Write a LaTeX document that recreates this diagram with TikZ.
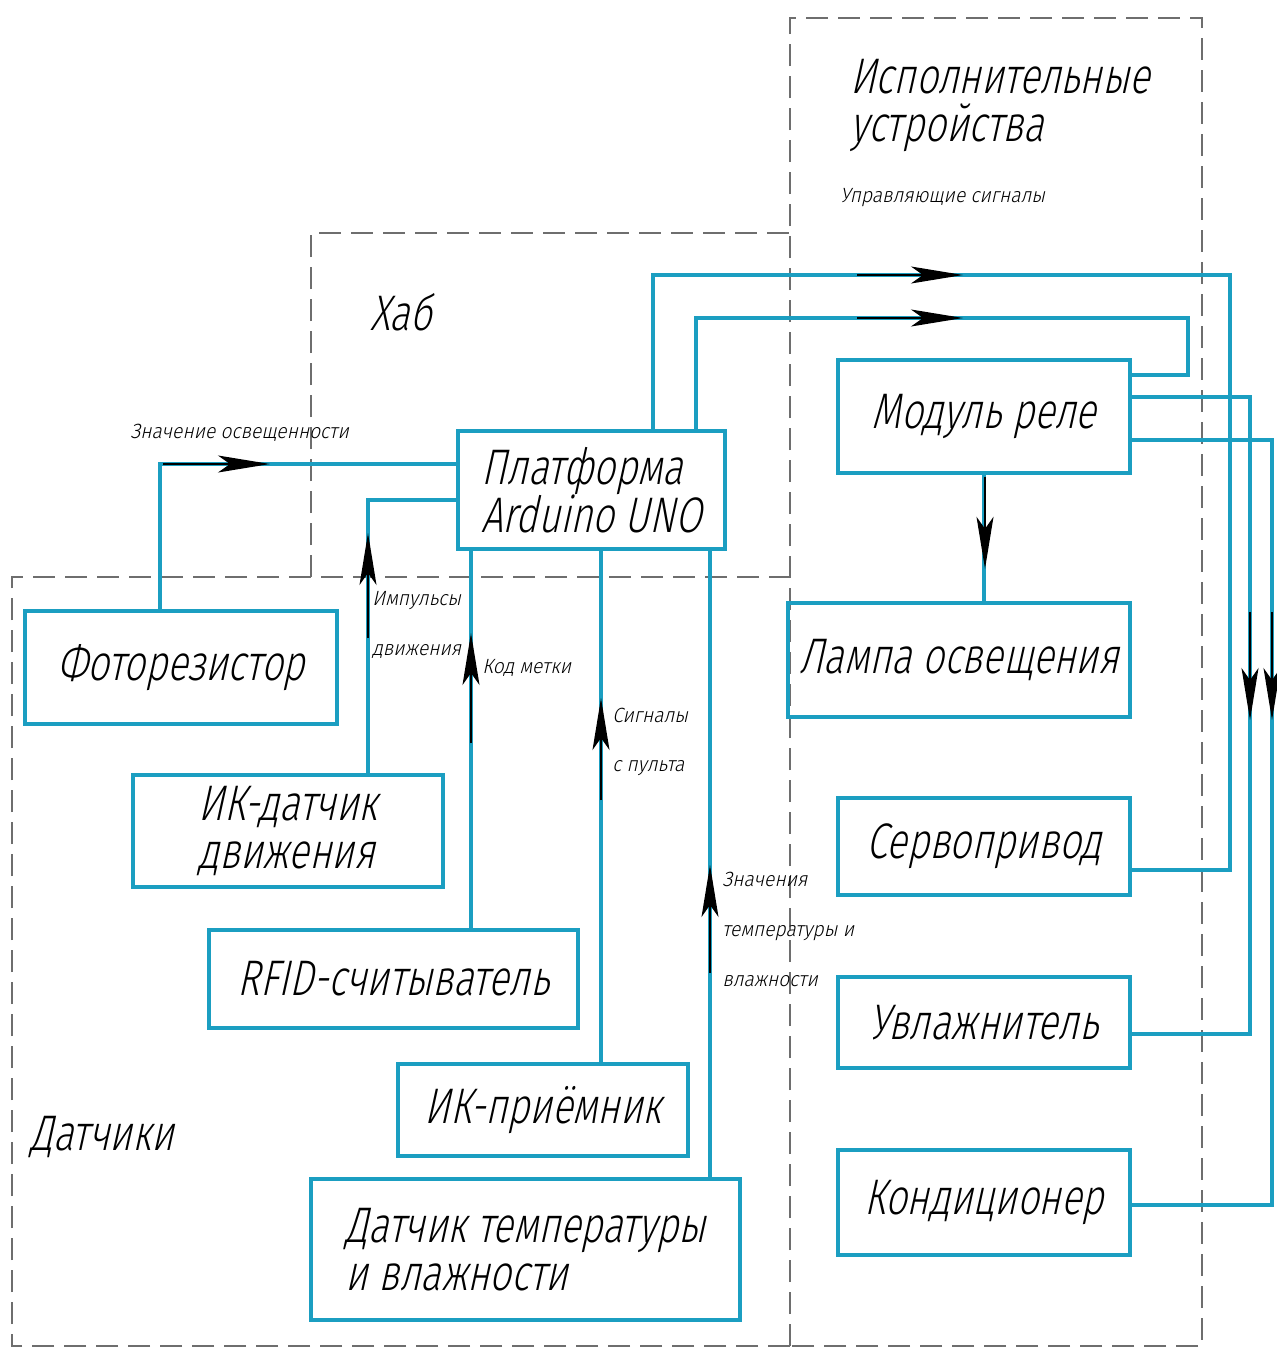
\documentclass[tikz,border=0pt]{standalone}
\usepackage{fontspec}
\usetikzlibrary{arrows.meta}
% narrow slanted lettering in the style of drafting fonts
\newfontfamily\gostbig[FakeSlant=0.22,FakeStretch=0.76]{Fira Sans Light}
\newfontfamily\gostsmall[FakeSlant=0.22,FakeStretch=0.93]{Fira Sans Light}
\definecolor{wireblue}{RGB}{27,158,193}
\definecolor{framegray}{RGB}{110,110,110}
\begin{document}
\begin{tikzpicture}[x=0.5pt,y=-0.5pt,
  box/.style={draw=wireblue,line width=1.8pt,inner sep=0pt,align=left,
    font=\gostbig\fontsize{25}{24}\selectfont},
  wire/.style={draw=wireblue,line width=1.8pt},
  zone/.style={draw=framegray,line width=0.9pt,dash pattern=on 11pt off 5pt},
  sig/.style={draw=black,line width=0.7pt,-{Stealth[length=26pt,width=8.5pt,inset=6pt]}},
  tag/.style={anchor=base west,inner sep=0pt,font=\gostsmall\fontsize{10.3}{12}\selectfont},
  title/.style={anchor=base west,inner sep=0pt,align=left,font=\gostbig\fontsize{25}{25}\selectfont}]
\useasboundingbox (0,0) rectangle (1277,1349);
\fill[white] (0,0) rectangle (1277,1349);

% dashed zones
\draw[zone] (790,1346) -- (790,18) -- (1202,18) -- (1202,1346) -- cycle;
\draw[zone] (311,577) -- (311,233) -- (790,233);
\draw[zone] (790,1346) -- (12,1346) -- (12,577) -- (790,577);

% zone titles
\node[title] (tExec) at (850,93) {Исполнительные};
\node[title] (tExec2) at (850,141) {устройства};
\node[title] (tHub) at (370,330) {Хаб};
\node[title] (tSens) at (30,1150) {Датчики};

% blocks
\node[box,minimum width=133.5pt,minimum height=59pt] (arduino) at (591.5,490) {Платформа\\Arduino UNO};
\node[box,minimum width=156pt,minimum height=56.5pt] (photo) at (181,667.5) {Фоторезистор};
\node[box,minimum width=155pt,minimum height=56pt] (pir) at (288,831) {ИК-датчик\\движения};
\node[box,minimum width=184.5pt,minimum height=49pt] (rfid) at (393.5,979) {RFID-считыватель};
\node[box,minimum width=145pt,minimum height=46pt] (irrx) at (543,1110) {ИК-приёмник};
\node[box,minimum width=214.5pt,minimum height=70.5pt] (dht) at (525.5,1249.5) {Датчик температуры\\и влажности};
\node[box,minimum width=146pt,minimum height=56.5pt] (relay) at (984,416.5) {Модуль реле};
\node[box,minimum width=171pt,minimum height=57pt] (lamp) at (959,660) {Лампа освещения};
\node[box,minimum width=146pt,minimum height=48.5pt] (servo) at (984,846.5) {Сервопривод};
\node[box,minimum width=146pt,minimum height=45.5pt] (humid) at (984,1022.5) {Увлажнитель};
\node[box,minimum width=146pt,minimum height=52.5pt] (ac) at (984,1202.5) {Кондиционер};

% wire tracks
\coordinate (tPh) at (160,464);
\coordinate (tPir) at (368,500);
\coordinate (tRf) at (471,0);
\coordinate (tIr) at (601,0);
\coordinate (tDh) at (710,0);
\coordinate (tO1) at (653,275);
\coordinate (tO1r) at (1230,870);
\coordinate (tO2) at (696,318);
\coordinate (tO2r) at (1188,375);
\coordinate (tH) at (1250,397);
\coordinate (tHd) at (0,1034);
\coordinate (tA) at (1272,440);
\coordinate (tAd) at (0,1205);

% sensor lines into the hub
\draw[wire] (photo.north -| tPh) |- (arduino.west |- tPh);
\draw[wire] (pir.north -| tPir) |- (arduino.west |- tPir);
\draw[wire] (rfid.north -| tRf) -- (arduino.south -| tRf);
\draw[wire] (irrx.north -| tIr) -- (arduino.south -| tIr);
\draw[wire] (dht.north -| tDh) -- (arduino.south -| tDh);

% control lines out of the hub
\draw[wire] (arduino.north -| tO1) |- (tO1r |- tO1) |- (servo.east |- tO1r);
\draw[wire] (arduino.north -| tO2) |- (tO2r |- tO2) |- (relay.east |- tO2r);
\draw[wire] (relay.east |- tH) -| (tH |- tHd) -- (humid.east |- tHd);
\draw[wire] (relay.east |- tA) -| (tA |- tAd) -- (ac.east |- tAd);
\draw[wire] (relay.south) -- (lamp.north -| relay.south);

% signal direction marks
\draw[sig] (tPh) ++(3,0) -- ++(107,0);
\draw[sig] (tPir |- 0,638) -- ++(0,-105);
\draw[sig] (tRf |- 0,743) -- ++(0,-110);
\draw[sig] (tIr |- 0,800) -- ++(0,-102);
\draw[sig] (tDh |- 0,973) -- ++(0,-108);
\draw[sig] (tO1) ++(204,0) -- ++(106,0);
\draw[sig] (tO2) ++(161,0) -- ++(106,0);
\draw[sig] (relay.south) ++(1,2) -- ++(0,92);
\draw[sig] (tH |- 0,612) -- ++(0,108);
\draw[sig] (tA |- 0,612) -- ++(0,108);

% signal labels
\node[tag] (lPh) at (130,438) {Значение освещенности};
\node[tag] (lPir1) at (372,605) {Импульсы};
\node[tag] (lPir2) at (372,655) {движения};
\node[tag] (lRf) at (482,673) {Код метки};
\node[tag] (lIr1) at (612,722) {Сигналы};
\node[tag] (lIr2) at (612,771) {с пульта};
\node[tag] (lDh1) at (722,886) {Значения};
\node[tag] (lDh2) at (722,936) {температуры и};
\node[tag] (lDh3) at (722,986) {влажности};
\node[tag] (lCtl) at (840,202) {Управляющие сигналы};
\end{tikzpicture}
\end{document}
